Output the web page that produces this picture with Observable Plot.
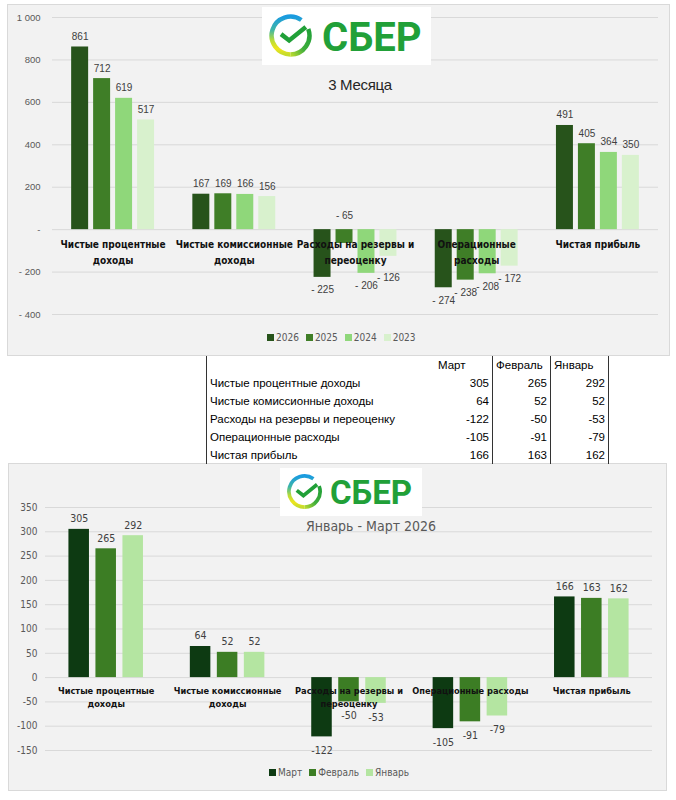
<!DOCTYPE html>
<html><head><meta charset="utf-8">
<script src="https://cdn.jsdelivr.net/npm/d3@7"></script>
<script src="https://cdn.jsdelivr.net/npm/@observablehq/plot@0.6"></script>
<style>
body{margin:0;width:676px;height:800px;background:#fff;position:relative;overflow:hidden;font-family:"Liberation Sans",Arial,sans-serif;}
.abs{position:absolute;}
.panel{position:absolute;background:#f2f2f2;border:1px solid #d9d9d9;box-sizing:border-box;}
.logo{position:absolute;background:#fff;}
.logo span{position:absolute;font-family:Roboto,"Open Sans",sans-serif;font-weight:700;color:#21a038;line-height:1;}
.legend{position:absolute;display:flex;font-size:10px;color:#595959;font-family:"DejaVu Sans Condensed","Liberation Sans",sans-serif;}
.legend .it{display:flex;align-items:center;margin-right:7px;}
.legend .sw{width:7px;height:7px;margin-right:2px;}
table.t{position:absolute;border-collapse:collapse;font-size:11.5px;color:#000;font-family:"Liberation Sans",Arial,sans-serif;}
table.t td{height:18px;padding:0 3px;white-space:nowrap;line-height:18px;}
</style></head><body>
<div class="panel" style="left:7px;top:4px;width:663px;height:352px"></div>
<div class="panel" style="left:8px;top:463px;width:659px;height:328px"></div>
<div id="chart1" class="abs" style="left:0;top:0"></div>
<div id="chart2" class="abs" style="left:0;top:463px"></div>
<div id="logo1" class="logo" style="left:262px;top:7px;width:169px;height:58px"></div>
<div id="logo2" class="logo" style="left:280px;top:468px;width:142px;height:48px"></div>
<div class="abs" id="title1" style="left:300px;width:120px;text-align:center;top:76px;font-size:15px;color:#262626;font-family:'Liberation Sans',sans-serif;letter-spacing:-0.3px">3 Месяца</div>
<div class="abs" id="title2" style="left:271px;width:200px;text-align:center;top:518px;font-size:14px;color:#595959;font-family:'DejaVu Sans Condensed','Liberation Sans',sans-serif">Январь - Март 2026</div>
<div id="legend1" class="legend" style="top:332px;left:267px"></div>
<div id="legend2" class="legend" style="top:767px;left:269px"></div>
<div id="table"></div>
<script>
// ---------- data ----------
const categories = ["Чистые процентные доходы","Чистые комиссионные доходы","Расходы на резервы и переоценку","Операционные расходы","Чистая прибыль"];
const topLabels = ["Чистые процентные\nдоходы","Чистые комиссионные\nдоходы","Расходы на резервы и\nпереоценку","Операционные\nрасходы","Чистая прибыль"];
const bottomLabels = ["Чистые процентные\nдоходы","Чистые комиссионные\nдоходы","Расходы на резервы и\nпереоценку","Операционные расходы","Чистая прибыль"];

const years = ["2026","2025","2024","2023"];
const yearColors = ["#27531b","#3f7e27","#8fd77a","#d8f1cd"];
const values2026 = [861,167,-225,-274,491];
const values2025 = [712,169,-65,-238,405];
const values2024 = [619,166,-206,-208,364];
const values2023 = [517,156,-126,-172,350];
const topTicks = [-400,-200,0,200,400,600,800,1000];

const months = ["Март","Февраль","Январь"];
const monthColors = ["#0d3a12","#3c7d24","#b4e5a1"];
const valuesMar = [305,64,-122,-105,166];
const valuesFeb = [265,52,-50,-91,163];
const valuesJan = [292,52,-53,-79,162];
const bottomTicks = [-150,-100,-50,0,50,100,150,200,250,300,350];

// ---------- helpers ----------
function tidy(series, arrays){
  const rows=[];
  series.forEach((s,i)=>categories.forEach((c,j)=>rows.push({cat:c, series:s, value:arrays[i][j]})));
  return rows;
}
const grp = d3.format(",");
const fmtAcc = v => v===0 ? "-" : (v<0 ? "- " : "") + grp(Math.abs(v)).replace(/,/g," ");
const fmtPlain = v => String(v);
const cond = "'DejaVu Sans Condensed','Liberation Sans',sans-serif";

function groupedChart(o){
  const common = {
    width:676, height:o.height,
    marginLeft:o.ml, marginRight:o.mr, marginTop:o.mt, marginBottom:o.mb,
    style:{background:"transparent", fontFamily:o.font, overflow:"visible"}
  };
  // base layer: grid + y tick labels spanning the whole frame
  const base = Plot.plot({
    ...common,
    y:{domain:o.yDomain, axis:null},
    marks:[
      Plot.ruleY(o.ticks,{stroke:"#d9d9d9", strokeWidth:1}),
      Plot.text(o.ticks,{y:d=>d, text:o.tickFmt, frameAnchor:"left", textAnchor:"end", dx:o.tickDx, fill:"#595959", fontSize:o.tickSize})
    ]
  });
  // value-label placement: negative labels that would fall into the category-label band
  const z = o.zone; // [aboveLimit, bandDepth] in data units, or null
  const isAbove = d => d.value>=0 || (z && -d.value < z[0]);
  const below = o.data.filter(d=>!isAbove(d)).map(d=>({...d, ly: z ? Math.min(d.value, -z[1]) : d.value}));
  const aboveNeg = o.data.filter(d=>d.value<0 && isAbove(d));
  const labelRows = categories.map((c,i)=>({cat:c, label:o.labels[i]}));
  const txt = {fill:"#404040", fontSize:o.valSize, fontFamily:o.valFont};
  const bars = Plot.plot({
    ...common,
    fx:{domain:categories, paddingInner:o.fxPad, paddingOuter:o.fxPad/2, round:false, axis:null, label:null},
    x:{domain:o.series, paddingInner:o.xPad, paddingOuter:0, round:false, axis:null},
    y:{domain:o.yDomain, axis:null},
    color:{domain:o.series, range:o.colors},
    marks:[
      Plot.barY(o.data,{fx:"cat", x:"series", y:"value", fill:"series"}),
      Plot.text(o.data.filter(d=>d.value>=0),{fx:"cat", x:"series", y:"value", text:d=>o.valFmt(d.value), lineAnchor:"bottom", dy:-7, ...txt}),
      Plot.text(aboveNeg,{fx:"cat", x:"series", y:()=>0, text:d=>o.valFmt(d.value), lineAnchor:"bottom", dy:-11, ...txt}),
      Plot.text(below,{fx:"cat", x:"series", y:"ly", text:d=>o.valFmt(d.value), lineAnchor:"top", dy:o.negDy, ...txt}),
      Plot.text(labelRows,{fx:"cat", y:()=>0, text:"label", lineAnchor:"top", dy:o.catDy, fontWeight:"bold", fill:"#111", fontSize:o.catSize, lineHeight:o.catLH, fontFamily:cond})
    ]
  });
  const wrap=document.createElement("div");
  wrap.style.position="relative"; wrap.style.width="676px"; wrap.style.height=o.height+"px";
  base.style.position="absolute"; base.style.left="0"; base.style.top="0";
  bars.style.position="absolute"; bars.style.left="0"; bars.style.top="0";
  wrap.appendChild(base); wrap.appendChild(bars);
  return wrap;
}

document.getElementById("chart1").appendChild(groupedChart({
  data:tidy(years,[values2026,values2025,values2024,values2023]),
  series:years, colors:yearColors, labels:topLabels,
  height:330, ml:52, mr:18, mt:17, mb:16,
  yDomain:[-400,1000], ticks:topTicks, tickFmt:fmtAcc, valFmt:fmtAcc, zone:[100,165],
  fxPad:0.316, xPad:0.227, tickDx:-12, tickSize:9.5, valSize:10, negDy:9,
  catDy:7, catSize:10, catLH:1.6, font:"'Liberation Sans',Arial,sans-serif", valFont:"'Liberation Sans',Arial,sans-serif"
}));

document.getElementById("chart2").appendChild(groupedChart({
  data:tidy(months,[valuesMar,valuesFeb,valuesJan]),
  series:months, colors:monthColors, labels:bottomLabels,
  height:300, ml:45, mr:24, mt:44, mb:13,
  yDomain:[-150,350], ticks:bottomTicks, tickFmt:fmtPlain, valFmt:fmtPlain, zone:null,
  fxPad:0.386, xPad:0.24, tickDx:-8, tickSize:10, valSize:10.5, negDy:10,
  catDy:8, catSize:9.2, catLH:1.35, font:cond, valFont:cond
}));

// legends
function legend(id, series, colors){
  const el=document.getElementById(id);
  series.forEach((s,i)=>{
    const it=document.createElement("div"); it.className="it";
    const sw=document.createElement("div"); sw.className="sw"; sw.style.background=colors[i];
    const tx=document.createElement("span"); tx.textContent=s;
    it.appendChild(sw); it.appendChild(tx); el.appendChild(it);
  });
}
legend("legend1", years, yearColors);
legend("legend2", months, monthColors);

// logos
function logo(id, iconSize, iconX, iconY, fontSize, textX, textY){
  const el=document.getElementById(id);
  const gid=id+"g";
  el.innerHTML=`<svg style="position:absolute;left:${iconX}px;top:${iconY}px" width="${iconSize}" height="${iconSize}" viewBox="0 0 100 100">
   <defs>
    <linearGradient id="${gid}a" x1="0" y1="0" x2="0" y2="1">
     <stop offset="0" stop-color="#1a9be0"/><stop offset="0.35" stop-color="#3fb6a6"/>
     <stop offset="0.62" stop-color="#b6dc3a"/><stop offset="0.85" stop-color="#eee51e"/><stop offset="1" stop-color="#c6dc2c"/>
    </linearGradient>
    <linearGradient id="${gid}b" x1="0" y1="1" x2="1" y2="0">
     <stop offset="0" stop-color="#b8da30"/><stop offset="0.45" stop-color="#3fae3c"/><stop offset="1" stop-color="#21a038"/>
    </linearGradient>
   </defs>
   <path d="M74.1,15.6 A42,42 0 1,0 50,92" fill="none" stroke="url(#${gid}a)" stroke-width="10"/>
   <path d="M50,92 A42,42 0 0,0 89.5,35.6" fill="none" stroke="url(#${gid}b)" stroke-width="10"/>
   <polyline points="29,47 47,61 84,31" fill="none" stroke="#21a038" stroke-width="10" stroke-linejoin="miter"/>
  </svg><span style="left:${textX}px;top:${textY}px;font-size:${fontSize}px">СБЕР</span>`;
}
logo("logo1", 45, 6, 6, 40, 60, 11);
logo("logo2", 37, 6, 5, 33, 50, 8);

// table
(function(){
  const rows=[valuesMar,valuesFeb,valuesJan];
  let h=`<table class="t" style="left:206px;top:356px"><tr><td style="width:222px;border-left:1px solid #333"></td>`;
  months.forEach(m=>h+=`<td style="width:51px;border-right:1px solid #333">${m}</td>`);
  h+="</tr>";
  categories.forEach((c,j)=>{
    h+=`<tr><td style="border-left:1px solid #333">${c}</td>`;
    rows.forEach(r=>h+=`<td style="text-align:right;border-right:1px solid #333">${r[j]}</td>`);
    h+="</tr>";
  });
  h+="</table>";
  document.getElementById("table").innerHTML=h;
})();
</script>
</body></html>
